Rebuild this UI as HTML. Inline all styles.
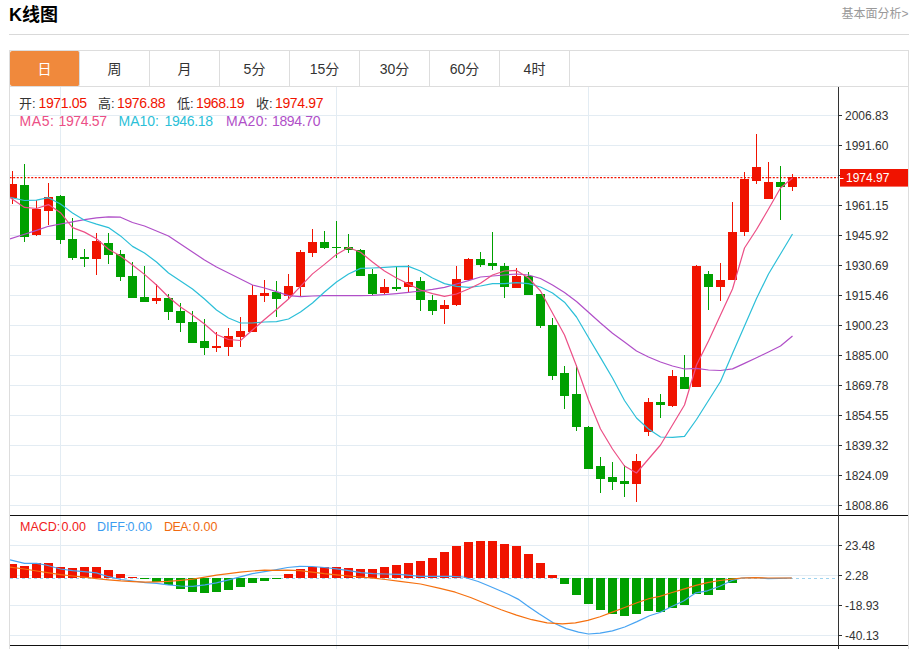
<!DOCTYPE html>
<html><head><meta charset="utf-8"><style>
html,body{margin:0;padding:0;background:#fff;}
body{width:915px;height:649px;overflow:hidden;position:relative;font-family:"Liberation Sans","Noto Sans CJK SC",sans-serif;}
.t{position:absolute;white-space:nowrap;}
#title{left:9px;top:2px;font-size:18px;font-weight:bold;color:#000;line-height:26px;}
#more{right:6.5px;top:5.5px;font-size:12px;color:#999;line-height:16px;}
#hr{position:absolute;left:9px;top:34px;width:900px;height:1px;background:#d9d9d9;}
#tabs{position:absolute;left:9px;top:50px;width:898px;height:35px;border:1px solid #ddd;}
.tab{position:absolute;top:0;width:69px;height:34px;padding-top:1px;line-height:35px;text-align:center;font-size:14px;color:#333;border-right:1px solid #ddd;}
.tab.on{background:#f0893c;color:#fff;border-radius:2px;border-right-color:#d6dde3;}
#frame{position:absolute;left:9px;top:86px;width:898px;height:570px;border-left:1px solid #ddd;border-right:1px solid #ddd;}
svg{position:absolute;left:0;top:0;}
.ax{font-family:"Liberation Sans",sans-serif;font-size:12px;fill:#333;}
.cj{position:absolute;font-size:13px;line-height:16px;white-space:nowrap;color:#333;}
.num{position:absolute;font-size:14px;line-height:16px;white-space:nowrap;letter-spacing:-0.35px;}
.r{color:#f01300;}
.ma{letter-spacing:0.6px;}
.sm{position:absolute;top:519px;font-size:12.5px;line-height:16px;white-space:nowrap;}
</style></head><body>
<div class="t" id="title">K线图</div>
<div class="t" id="more">基本面分析&gt;</div>
<div id="hr"></div>
<div id="frame"></div>
<svg width="915" height="649" viewBox="0 0 915 649">
<defs><clipPath id="cm"><rect x="10" y="87" width="828" height="428"/></clipPath><clipPath id="cd"><rect x="10" y="516" width="828" height="129"/></clipPath></defs>
<rect x="10" y="115" width="828" height="1" fill="#e3ecf3"/>
<rect x="10" y="145" width="828" height="1" fill="#e3ecf3"/>
<rect x="10" y="175" width="828" height="1" fill="#e3ecf3"/>
<rect x="10" y="205" width="828" height="1" fill="#e3ecf3"/>
<rect x="10" y="235" width="828" height="1" fill="#e3ecf3"/>
<rect x="10" y="265" width="828" height="1" fill="#e3ecf3"/>
<rect x="10" y="295" width="828" height="1" fill="#e3ecf3"/>
<rect x="10" y="325" width="828" height="1" fill="#e3ecf3"/>
<rect x="10" y="355" width="828" height="1" fill="#e3ecf3"/>
<rect x="10" y="385" width="828" height="1" fill="#e3ecf3"/>
<rect x="10" y="415" width="828" height="1" fill="#e3ecf3"/>
<rect x="10" y="445" width="828" height="1" fill="#e3ecf3"/>
<rect x="10" y="475" width="828" height="1" fill="#e3ecf3"/>
<rect x="10" y="505" width="828" height="1" fill="#e3ecf3"/>
<rect x="10" y="545" width="828" height="1" fill="#e3ecf3"/>
<rect x="10" y="575" width="828" height="1" fill="#e3ecf3"/>
<rect x="10" y="605" width="828" height="1" fill="#e3ecf3"/>
<rect x="10" y="635" width="828" height="1" fill="#e3ecf3"/>
<rect x="60" y="87" width="1" height="562" fill="#e3ecf3"/>
<rect x="336" y="87" width="1" height="562" fill="#e3ecf3"/>
<rect x="588" y="87" width="1" height="562" fill="#e3ecf3"/>
<line x1="9.6" y1="177.6" x2="838" y2="177.6" stroke="#f01300" stroke-width="1.1" stroke-dasharray="2,1.6" clip-path="url(#cm)"/>
<g clip-path="url(#cm)" shape-rendering="crispEdges">
<rect x="12.0" y="171.0" width="1" height="32.6" fill="#f01300"/>
<rect x="8.0" y="183.6" width="9" height="14.0" fill="#f01300"/>
<rect x="24.0" y="164.0" width="1" height="77.6" fill="#00a000"/>
<rect x="20.0" y="185.0" width="9" height="52.2" fill="#00a000"/>
<rect x="36.0" y="200.4" width="1" height="35.6" fill="#f01300"/>
<rect x="32.0" y="209.0" width="9" height="25.6" fill="#f01300"/>
<rect x="48.0" y="183.0" width="1" height="41.5" fill="#f01300"/>
<rect x="44.0" y="196.8" width="9" height="14.4" fill="#f01300"/>
<rect x="60.0" y="195.4" width="1" height="48.6" fill="#00a000"/>
<rect x="56.0" y="196.0" width="9" height="43.6" fill="#00a000"/>
<rect x="72.0" y="218.0" width="1" height="42.0" fill="#00a000"/>
<rect x="68.0" y="238.8" width="9" height="18.8" fill="#00a000"/>
<rect x="84.0" y="249.0" width="1" height="18.4" fill="#00a000"/>
<rect x="80.0" y="257.2" width="9" height="2.2" fill="#00a000"/>
<rect x="96.0" y="233.0" width="1" height="41.6" fill="#f01300"/>
<rect x="92.0" y="241.4" width="9" height="17.6" fill="#f01300"/>
<rect x="108.0" y="233.3" width="1" height="30.3" fill="#00a000"/>
<rect x="104.0" y="242.7" width="9" height="11.8" fill="#00a000"/>
<rect x="120.0" y="250.2" width="1" height="30.5" fill="#00a000"/>
<rect x="116.0" y="254.1" width="9" height="22.5" fill="#00a000"/>
<rect x="132.0" y="262.0" width="1" height="36.4" fill="#00a000"/>
<rect x="128.0" y="276.0" width="9" height="22.2" fill="#00a000"/>
<rect x="144.0" y="266.0" width="1" height="36.4" fill="#00a000"/>
<rect x="140.0" y="296.8" width="9" height="5.6" fill="#00a000"/>
<rect x="156.0" y="284.4" width="1" height="19.6" fill="#f01300"/>
<rect x="152.0" y="298.4" width="9" height="3.0" fill="#f01300"/>
<rect x="168.0" y="294.0" width="1" height="26.0" fill="#00a000"/>
<rect x="164.0" y="298.0" width="9" height="13.6" fill="#00a000"/>
<rect x="180.0" y="303.0" width="1" height="29.4" fill="#00a000"/>
<rect x="176.0" y="311.0" width="9" height="11.6" fill="#00a000"/>
<rect x="192.0" y="311.0" width="1" height="32.2" fill="#00a000"/>
<rect x="188.0" y="322.4" width="9" height="20.8" fill="#00a000"/>
<rect x="204.0" y="318.6" width="1" height="36.8" fill="#00a000"/>
<rect x="200.0" y="341.0" width="9" height="7.3" fill="#00a000"/>
<rect x="216.0" y="332.4" width="1" height="19.2" fill="#f01300"/>
<rect x="212.0" y="346.0" width="9" height="1.8" fill="#f01300"/>
<rect x="228.0" y="328.0" width="1" height="28.2" fill="#f01300"/>
<rect x="224.0" y="336.0" width="9" height="11.4" fill="#f01300"/>
<rect x="240.0" y="317.0" width="1" height="30.4" fill="#f01300"/>
<rect x="236.0" y="330.6" width="9" height="6.6" fill="#f01300"/>
<rect x="252.0" y="285.0" width="1" height="47.3" fill="#f01300"/>
<rect x="248.0" y="295.0" width="9" height="37.3" fill="#f01300"/>
<rect x="264.0" y="279.6" width="1" height="22.4" fill="#f01300"/>
<rect x="260.0" y="292.6" width="9" height="3.0" fill="#f01300"/>
<rect x="276.0" y="281.0" width="1" height="36.4" fill="#00a000"/>
<rect x="272.0" y="291.6" width="9" height="7.4" fill="#00a000"/>
<rect x="288.0" y="274.0" width="1" height="25.0" fill="#f01300"/>
<rect x="284.0" y="286.0" width="9" height="10.4" fill="#f01300"/>
<rect x="300.0" y="250.0" width="1" height="47.0" fill="#f01300"/>
<rect x="296.0" y="252.0" width="9" height="34.6" fill="#f01300"/>
<rect x="312.0" y="229.0" width="1" height="27.6" fill="#f01300"/>
<rect x="308.0" y="242.0" width="9" height="10.6" fill="#f01300"/>
<rect x="324.0" y="231.0" width="1" height="17.6" fill="#00a000"/>
<rect x="320.0" y="241.6" width="9" height="6.0" fill="#00a000"/>
<rect x="336.0" y="221.4" width="1" height="36.2" fill="#00a000"/>
<rect x="332.0" y="246.6" width="9" height="1.4" fill="#00a000"/>
<rect x="348.0" y="234.0" width="1" height="19.0" fill="#00a000"/>
<rect x="344.0" y="246.6" width="9" height="3.4" fill="#00a000"/>
<rect x="360.0" y="249.0" width="1" height="27.2" fill="#00a000"/>
<rect x="356.0" y="249.6" width="9" height="26.6" fill="#00a000"/>
<rect x="372.0" y="268.6" width="1" height="26.4" fill="#00a000"/>
<rect x="368.0" y="274.0" width="9" height="20.0" fill="#00a000"/>
<rect x="384.0" y="279.0" width="1" height="14.6" fill="#f01300"/>
<rect x="380.0" y="287.0" width="9" height="5.6" fill="#f01300"/>
<rect x="396.0" y="266.6" width="1" height="24.4" fill="#00a000"/>
<rect x="392.0" y="287.0" width="9" height="2.0" fill="#00a000"/>
<rect x="408.0" y="265.0" width="1" height="27.4" fill="#f01300"/>
<rect x="404.0" y="282.0" width="9" height="5.0" fill="#f01300"/>
<rect x="420.0" y="277.0" width="1" height="34.2" fill="#00a000"/>
<rect x="416.0" y="281.0" width="9" height="19.0" fill="#00a000"/>
<rect x="432.0" y="294.6" width="1" height="20.6" fill="#00a000"/>
<rect x="428.0" y="300.0" width="9" height="11.0" fill="#00a000"/>
<rect x="444.0" y="300.0" width="1" height="23.6" fill="#f01300"/>
<rect x="440.0" y="305.0" width="9" height="4.0" fill="#f01300"/>
<rect x="456.0" y="265.6" width="1" height="40.4" fill="#f01300"/>
<rect x="452.0" y="279.0" width="9" height="26.0" fill="#f01300"/>
<rect x="468.0" y="258.0" width="1" height="21.6" fill="#f01300"/>
<rect x="464.0" y="259.4" width="9" height="20.2" fill="#f01300"/>
<rect x="480.0" y="252.0" width="1" height="14.6" fill="#00a000"/>
<rect x="476.0" y="259.0" width="9" height="5.6" fill="#00a000"/>
<rect x="492.0" y="232.0" width="1" height="38.4" fill="#00a000"/>
<rect x="488.0" y="263.0" width="9" height="3.4" fill="#00a000"/>
<rect x="504.0" y="263.0" width="1" height="34.6" fill="#00a000"/>
<rect x="500.0" y="265.6" width="9" height="21.4" fill="#00a000"/>
<rect x="516.0" y="268.0" width="1" height="19.6" fill="#f01300"/>
<rect x="512.0" y="276.0" width="9" height="11.6" fill="#f01300"/>
<rect x="528.0" y="272.0" width="1" height="23.4" fill="#00a000"/>
<rect x="524.0" y="276.0" width="9" height="19.4" fill="#00a000"/>
<rect x="540.0" y="294.0" width="1" height="33.6" fill="#00a000"/>
<rect x="536.0" y="294.0" width="9" height="31.8" fill="#00a000"/>
<rect x="552.0" y="318.0" width="1" height="61.6" fill="#00a000"/>
<rect x="548.0" y="325.0" width="9" height="50.6" fill="#00a000"/>
<rect x="564.0" y="365.6" width="1" height="43.4" fill="#00a000"/>
<rect x="560.0" y="373.0" width="9" height="22.6" fill="#00a000"/>
<rect x="576.0" y="365.0" width="1" height="66.4" fill="#00a000"/>
<rect x="572.0" y="394.4" width="9" height="32.2" fill="#00a000"/>
<rect x="588.0" y="426.4" width="1" height="42.2" fill="#00a000"/>
<rect x="584.0" y="427.4" width="9" height="41.2" fill="#00a000"/>
<rect x="600.0" y="457.0" width="1" height="36.2" fill="#00a000"/>
<rect x="596.0" y="465.8" width="9" height="13.4" fill="#00a000"/>
<rect x="612.0" y="462.0" width="1" height="27.6" fill="#00a000"/>
<rect x="608.0" y="477.0" width="9" height="4.6" fill="#00a000"/>
<rect x="624.0" y="465.0" width="1" height="31.6" fill="#00a000"/>
<rect x="620.0" y="480.6" width="9" height="3.0" fill="#00a000"/>
<rect x="636.0" y="454.0" width="1" height="47.8" fill="#f01300"/>
<rect x="632.0" y="460.6" width="9" height="23.6" fill="#f01300"/>
<rect x="648.0" y="397.6" width="1" height="38.0" fill="#f01300"/>
<rect x="644.0" y="401.6" width="9" height="30.0" fill="#f01300"/>
<rect x="660.0" y="394.0" width="1" height="24.0" fill="#00a000"/>
<rect x="656.0" y="402.0" width="9" height="2.6" fill="#00a000"/>
<rect x="672.0" y="370.2" width="1" height="36.8" fill="#f01300"/>
<rect x="668.0" y="375.9" width="9" height="29.7" fill="#f01300"/>
<rect x="684.0" y="355.0" width="1" height="33.6" fill="#00a000"/>
<rect x="680.0" y="376.9" width="9" height="11.7" fill="#00a000"/>
<rect x="696.0" y="265.0" width="1" height="122.0" fill="#f01300"/>
<rect x="692.0" y="266.0" width="9" height="121.0" fill="#f01300"/>
<rect x="708.0" y="271.0" width="1" height="38.6" fill="#00a000"/>
<rect x="704.0" y="274.0" width="9" height="12.6" fill="#00a000"/>
<rect x="720.0" y="263.4" width="1" height="37.6" fill="#f01300"/>
<rect x="716.0" y="280.0" width="9" height="7.4" fill="#f01300"/>
<rect x="732.0" y="202.0" width="1" height="77.6" fill="#f01300"/>
<rect x="728.0" y="232.0" width="9" height="47.6" fill="#f01300"/>
<rect x="744.0" y="172.4" width="1" height="63.6" fill="#f01300"/>
<rect x="740.0" y="179.4" width="9" height="52.6" fill="#f01300"/>
<rect x="756.0" y="134.0" width="1" height="49.6" fill="#f01300"/>
<rect x="752.0" y="167.4" width="9" height="13.2" fill="#f01300"/>
<rect x="768.0" y="162.4" width="1" height="36.8" fill="#f01300"/>
<rect x="764.0" y="182.2" width="9" height="17.0" fill="#f01300"/>
<rect x="780.0" y="166.0" width="1" height="54.0" fill="#00a000"/>
<rect x="776.0" y="181.8" width="9" height="5.2" fill="#00a000"/>
<rect x="792.0" y="173.6" width="1" height="17.8" fill="#f01300"/>
<rect x="788.0" y="177.4" width="9" height="9.4" fill="#f01300"/>
</g>
<g clip-path="url(#cm)" fill="none" stroke-width="1.2" stroke-linejoin="round">
<polyline points="10.0,239.0 24.5,234.2 36.5,230.4 48.5,226.3 60.5,224.0 72.5,221.8 84.5,219.7 96.5,217.9 108.5,216.8 120.5,217.2 132.5,222.5 144.5,226.0 156.5,231.0 168.5,236.0 180.5,244.0 192.5,252.0 204.5,260.0 216.5,267.0 228.5,273.0 240.5,279.0 252.5,285.0 264.5,288.0 276.5,291.6 288.5,295.6 300.5,296.6 312.5,296.0 324.5,295.6 336.5,295.6 348.5,295.6 360.5,295.6 372.5,295.4 384.5,294.6 396.5,293.6 408.5,292.4 420.5,291.0 432.5,289.4 444.5,287.4 456.5,284.0 468.5,280.6 480.5,277.0 492.5,276.0 504.5,275.0 516.5,274.0 528.5,275.0 540.5,278.5 552.5,285.0 564.5,292.5 576.5,301.5 588.5,312.3 600.5,323.0 612.5,333.2 624.5,342.0 636.5,351.0 648.5,357.0 660.5,362.0 672.5,366.0 684.5,369.0 696.5,368.4 708.5,370.0 720.5,370.5 732.5,368.9 744.5,363.4 756.5,357.7 768.5,352.0 780.5,346.0 792.5,336.0" stroke="#b04fc8"/>
<polyline points="10.0,197.4 24.5,200.5 36.5,200.2 48.5,197.7 60.5,204.0 72.5,213.0 84.5,220.2 96.5,224.1 108.5,227.6 120.5,235.9 132.5,246.4 144.5,253.0 156.5,262.0 168.5,273.0 180.5,281.0 192.5,289.0 204.5,299.0 216.5,310.0 228.5,318.0 240.5,323.0 252.5,323.0 264.5,322.0 276.5,321.6 288.5,319.0 300.5,312.0 312.5,303.0 324.5,292.0 336.5,282.0 348.5,274.0 360.5,268.4 372.5,268.0 384.5,267.4 396.5,266.6 408.5,266.4 420.5,271.0 432.5,278.0 444.5,283.6 456.5,286.4 468.5,287.4 480.5,286.0 492.5,283.6 504.5,283.6 516.5,282.6 528.5,283.6 540.5,287.0 552.5,293.0 564.5,302.2 576.5,317.0 588.5,337.5 600.5,357.6 612.5,378.0 624.5,400.5 636.5,418.0 648.5,429.0 660.5,437.0 672.5,437.4 684.5,436.4 696.5,419.5 708.5,400.5 720.5,381.5 732.5,353.5 744.5,326.0 756.5,298.5 768.5,274.0 780.5,254.0 792.5,234.0" stroke="#2cbfd8"/>
<polyline points="10.0,197.4 24.5,207.4 36.5,208.5 48.5,204.6 60.5,212.7 72.5,227.6 84.5,232.1 96.5,238.7 108.5,249.3 120.5,256.0 132.5,265.0 144.5,274.4 156.5,285.0 168.5,297.0 180.5,307.0 192.5,315.0 204.5,324.0 216.5,334.5 228.5,339.5 240.5,340.5 252.5,330.0 264.5,319.5 276.5,309.5 288.5,299.0 300.5,286.3 312.5,273.9 324.5,264.4 336.5,254.4 348.5,247.5 360.5,252.2 372.5,262.0 384.5,271.0 396.5,278.0 408.5,284.0 420.5,290.0 432.5,293.6 444.5,296.4 456.5,294.0 468.5,289.0 480.5,283.3 492.5,275.0 504.5,271.0 516.5,270.4 528.5,278.0 540.5,291.0 552.5,313.0 564.5,335.0 576.5,366.0 588.5,400.0 600.5,429.0 612.5,449.0 624.5,466.0 636.5,473.0 648.5,459.0 660.5,445.0 672.5,425.0 684.5,405.0 696.5,365.0 708.5,341.0 720.5,315.0 732.5,289.0 744.5,248.0 756.5,229.5 768.5,209.0 780.5,188.0 792.5,178.0" stroke="#ec4f86"/>
</g>
<line x1="10" y1="578.5" x2="838" y2="578.5" stroke="#9fd3ee" stroke-width="1" stroke-dasharray="3,3"/>
<g clip-path="url(#cd)" shape-rendering="crispEdges">
<rect x="8.0" y="564.2" width="9" height="13.8" fill="#f01300"/>
<rect x="20.0" y="566.2" width="9" height="11.8" fill="#f01300"/>
<rect x="32.0" y="563.1" width="9" height="14.9" fill="#f01300"/>
<rect x="44.0" y="563.1" width="9" height="14.9" fill="#f01300"/>
<rect x="56.0" y="567.1" width="9" height="10.9" fill="#f01300"/>
<rect x="68.0" y="567.7" width="9" height="10.3" fill="#f01300"/>
<rect x="80.0" y="567.1" width="9" height="10.9" fill="#f01300"/>
<rect x="92.0" y="567.1" width="9" height="10.9" fill="#f01300"/>
<rect x="104.0" y="570.1" width="9" height="7.9" fill="#f01300"/>
<rect x="116.0" y="574.0" width="9" height="4.0" fill="#f01300"/>
<rect x="128.0" y="576.9" width="9" height="1.1" fill="#f01300"/>
<rect x="140.0" y="578.0" width="9" height="1.0" fill="#00a000"/>
<rect x="152.0" y="578.0" width="9" height="3.7" fill="#00a000"/>
<rect x="164.0" y="578.0" width="9" height="7.2" fill="#00a000"/>
<rect x="176.0" y="578.0" width="9" height="10.7" fill="#00a000"/>
<rect x="188.0" y="578.0" width="9" height="13.8" fill="#00a000"/>
<rect x="200.0" y="578.0" width="9" height="14.8" fill="#00a000"/>
<rect x="212.0" y="578.0" width="9" height="13.8" fill="#00a000"/>
<rect x="224.0" y="578.0" width="9" height="11.8" fill="#00a000"/>
<rect x="236.0" y="578.0" width="9" height="8.9" fill="#00a000"/>
<rect x="248.0" y="578.0" width="9" height="4.7" fill="#00a000"/>
<rect x="260.0" y="578.0" width="9" height="3.0" fill="#00a000"/>
<rect x="272.0" y="578.0" width="9" height="0.7" fill="#00a000"/>
<rect x="284.0" y="574.1" width="9" height="3.9" fill="#f01300"/>
<rect x="296.0" y="569.1" width="9" height="8.9" fill="#f01300"/>
<rect x="308.0" y="567.2" width="9" height="10.8" fill="#f01300"/>
<rect x="320.0" y="567.2" width="9" height="10.8" fill="#f01300"/>
<rect x="332.0" y="566.9" width="9" height="11.1" fill="#f01300"/>
<rect x="344.0" y="567.5" width="9" height="10.5" fill="#f01300"/>
<rect x="356.0" y="569.1" width="9" height="8.9" fill="#f01300"/>
<rect x="368.0" y="569.1" width="9" height="8.9" fill="#f01300"/>
<rect x="380.0" y="566.8" width="9" height="11.2" fill="#f01300"/>
<rect x="392.0" y="564.8" width="9" height="13.2" fill="#f01300"/>
<rect x="404.0" y="562.5" width="9" height="15.5" fill="#f01300"/>
<rect x="416.0" y="561.3" width="9" height="16.7" fill="#f01300"/>
<rect x="428.0" y="558.0" width="9" height="20.0" fill="#f01300"/>
<rect x="440.0" y="552.3" width="9" height="25.7" fill="#f01300"/>
<rect x="452.0" y="546.0" width="9" height="32.0" fill="#f01300"/>
<rect x="464.0" y="541.9" width="9" height="36.1" fill="#f01300"/>
<rect x="476.0" y="541.1" width="9" height="36.9" fill="#f01300"/>
<rect x="488.0" y="541.1" width="9" height="36.9" fill="#f01300"/>
<rect x="500.0" y="543.7" width="9" height="34.3" fill="#f01300"/>
<rect x="512.0" y="546.0" width="9" height="32.0" fill="#f01300"/>
<rect x="524.0" y="553.6" width="9" height="24.4" fill="#f01300"/>
<rect x="536.0" y="563.4" width="9" height="14.6" fill="#f01300"/>
<rect x="548.0" y="575.0" width="9" height="3.0" fill="#f01300"/>
<rect x="560.0" y="578.0" width="9" height="6.2" fill="#00a000"/>
<rect x="572.0" y="578.0" width="9" height="16.6" fill="#00a000"/>
<rect x="584.0" y="578.0" width="9" height="26.4" fill="#00a000"/>
<rect x="596.0" y="578.0" width="9" height="32.1" fill="#00a000"/>
<rect x="608.0" y="578.0" width="9" height="35.9" fill="#00a000"/>
<rect x="620.0" y="578.0" width="9" height="37.8" fill="#00a000"/>
<rect x="632.0" y="578.0" width="9" height="36.2" fill="#00a000"/>
<rect x="644.0" y="578.0" width="9" height="33.0" fill="#00a000"/>
<rect x="656.0" y="578.0" width="9" height="33.6" fill="#00a000"/>
<rect x="668.0" y="578.0" width="9" height="30.4" fill="#00a000"/>
<rect x="680.0" y="578.0" width="9" height="26.6" fill="#00a000"/>
<rect x="692.0" y="578.0" width="9" height="16.4" fill="#00a000"/>
<rect x="704.0" y="578.0" width="9" height="16.8" fill="#00a000"/>
<rect x="716.0" y="578.0" width="9" height="12.0" fill="#00a000"/>
<rect x="728.0" y="578.0" width="9" height="4.6" fill="#00a000"/>
<rect x="740.0" y="578.0" width="9" height="0.4" fill="#00a000"/>
</g>
<g clip-path="url(#cd)" fill="none" stroke-width="1.2" stroke-linejoin="round">
<polyline points="10.0,559.9 24.5,563.4 36.7,563.4 45.9,565.0 60.4,569.0 72.7,570.6 84.1,571.7 96.4,572.9 108.6,576.7 120.9,579.5 133.1,581.0 145.3,582.6 156.8,583.4 168.2,584.9 180.5,586.0 192.7,586.3 205.0,584.9 216.4,582.9 228.7,579.8 240.2,576.8 252.4,573.7 264.6,571.7 275.3,569.8 287.5,567.5 299.8,566.3 312.0,566.5 324.3,567.5 336.5,568.8 348.7,570.6 361.0,572.6 373.2,573.7 385.5,574.0 400.0,574.4 420.6,576.3 435.9,576.3 451.2,576.3 463.4,577.0 478.2,581.5 487.9,585.5 500.2,590.8 508.8,594.5 518.0,599.1 528.7,606.7 539.4,614.0 553.2,622.8 566.2,628.6 578.5,632.1 588.5,634.0 600.1,633.2 612.4,630.9 624.7,627.0 637.0,621.6 649.4,615.8 659.8,612.5 671.3,606.7 683.6,601.0 695.9,592.8 707.4,590.8 719.7,586.2 732.0,580.5 741.8,578.0 755.0,577.5 768.0,578.6 779.5,578.3 791.8,578.0" stroke="#48a4f2"/>
<polyline points="10.0,567.2 24.5,569.0 36.7,571.0 49.0,572.9 60.4,574.7 72.7,576.0 84.0,577.2 96.4,578.6 108.6,579.8 120.9,580.9 133.1,581.6 145.3,582.1 156.8,581.8 168.2,581.4 180.5,580.3 192.7,579.1 205.0,577.2 216.4,575.2 228.7,573.7 240.2,572.2 252.4,571.0 264.6,570.2 275.3,570.3 287.5,570.1 299.8,570.6 312.0,572.1 324.3,573.7 336.5,574.9 348.7,576.0 361.0,577.0 373.2,578.2 385.5,579.5 400.0,581.3 420.6,584.0 440.0,588.4 455.3,592.2 470.6,597.5 485.9,603.7 501.2,609.8 516.5,615.1 531.8,619.7 547.1,622.8 562.4,623.9 575.4,622.9 587.8,620.4 600.1,616.7 612.4,612.1 624.7,607.5 637.0,602.8 649.4,598.5 659.8,596.4 671.3,592.8 683.6,589.2 695.9,585.4 707.4,582.6 719.7,580.5 732.0,579.2 741.8,578.0 755.0,577.7 768.0,578.0 791.8,578.0" stroke="#f5700f"/>
</g>
<rect x="10" y="515" width="898" height="1" fill="#111"/>
<rect x="10" y="645" width="898" height="1" fill="#111"/>
<rect x="838" y="87" width="1" height="562" fill="#333"/>
<rect x="838" y="115" width="4" height="1" fill="#333"/>
<text x="845" y="119.5" class="ax">2006.83</text>
<rect x="838" y="145" width="4" height="1" fill="#333"/>
<text x="845" y="149.5" class="ax">1991.60</text>
<rect x="838" y="205" width="4" height="1" fill="#333"/>
<text x="845" y="209.5" class="ax">1961.15</text>
<rect x="838" y="235" width="4" height="1" fill="#333"/>
<text x="845" y="239.5" class="ax">1945.92</text>
<rect x="838" y="265" width="4" height="1" fill="#333"/>
<text x="845" y="269.5" class="ax">1930.69</text>
<rect x="838" y="295" width="4" height="1" fill="#333"/>
<text x="845" y="299.5" class="ax">1915.46</text>
<rect x="838" y="325" width="4" height="1" fill="#333"/>
<text x="845" y="329.5" class="ax">1900.23</text>
<rect x="838" y="355" width="4" height="1" fill="#333"/>
<text x="845" y="359.5" class="ax">1885.00</text>
<rect x="838" y="385" width="4" height="1" fill="#333"/>
<text x="845" y="389.5" class="ax">1869.78</text>
<rect x="838" y="415" width="4" height="1" fill="#333"/>
<text x="845" y="419.5" class="ax">1854.55</text>
<rect x="838" y="445" width="4" height="1" fill="#333"/>
<text x="845" y="449.5" class="ax">1839.32</text>
<rect x="838" y="475" width="4" height="1" fill="#333"/>
<text x="845" y="479.5" class="ax">1824.09</text>
<rect x="838" y="505" width="4" height="1" fill="#333"/>
<text x="845" y="509.5" class="ax">1808.86</text>
<rect x="838" y="545" width="4" height="1" fill="#333"/>
<text x="845" y="549.5" class="ax">23.48</text>
<rect x="838" y="575" width="4" height="1" fill="#333"/>
<text x="845" y="579.5" class="ax">2.28</text>
<rect x="838" y="605" width="4" height="1" fill="#333"/>
<text x="845" y="609.5" class="ax">-18.93</text>
<rect x="838" y="635" width="4" height="1" fill="#333"/>
<text x="845" y="639.5" class="ax">-40.13</text>
<rect x="838" y="175" width="2" height="1" fill="#333"/>
<rect x="840" y="169" width="68" height="17.6" fill="#f01300"/>
<rect x="840" y="178" width="3.5" height="1" fill="#fff"/>
<text x="846" y="182" class="ax" fill="#fff" style="fill:#fff">1974.97</text>
</svg>
<div id="tabs">
<div class="tab on" style="left:0">日</div>
<div class="tab" style="left:70px">周</div>
<div class="tab" style="left:140px">月</div>
<div class="tab" style="left:210px">5分</div>
<div class="tab" style="left:280px">15分</div>
<div class="tab" style="left:350px">30分</div>
<div class="tab" style="left:420px">60分</div>
<div class="tab" style="left:490px">4时</div>
</div>
<div class="cj" style="left:19px;top:96px">开:</div><div class="num r" style="left:38.5px;top:95px">1971.05</div>
<div class="cj" style="left:98px;top:96px">高:</div><div class="num r" style="left:117px;top:95px">1976.88</div>
<div class="cj" style="left:177px;top:96px">低:</div><div class="num r" style="left:196px;top:95px">1968.19</div>
<div class="cj" style="left:256px;top:96px">收:</div><div class="num r" style="left:275px;top:95px">1974.97</div>
<div class="num ma" style="left:19.5px;top:113.3px;color:#ec4f86">MA5:</div><div class="num" style="left:58.5px;top:113.3px;color:#ec4f86">1974.57</div>
<div class="num" style="left:118.5px;letter-spacing:0;top:113.3px;color:#2cbfd8">MA10:</div><div class="num" style="left:164.5px;top:113.3px;color:#2cbfd8">1946.18</div>
<div class="num" style="left:226px;letter-spacing:0.3px;top:113.3px;color:#b04fc8">MA20:</div><div class="num" style="left:272px;top:113.3px;color:#b04fc8">1894.70</div>
<div class="sm" style="left:20px;color:#f02020">MACD:</div><div class="sm" style="left:61.5px;color:#f02020">0.00</div>
<div class="sm" style="left:97px;color:#3c9cf0">DIFF:</div><div class="sm" style="left:127.5px;color:#3c9cf0">0.00</div>
<div class="sm" style="left:164px;color:#f06a10;letter-spacing:-0.5px">DEA:</div><div class="sm" style="left:193px;color:#f06a10">0.00</div>
</body></html>
